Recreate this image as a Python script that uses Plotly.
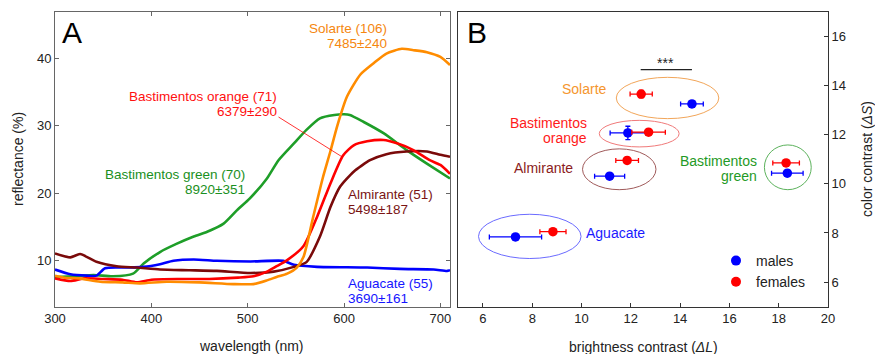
import plotly.graph_objects as go

# ---------------- Panel A data: reflectance spectra ----------------
green_wl = [300, 320, 340, 360, 381, 392, 409, 426, 444, 458, 475, 489, 502, 520, 532, 548, 561, 575, 590, 600, 606, 620, 641, 665, 686, 710]
green_rf = [7.6, 7.7, 7.9, 7.7, 8.1, 9.6, 11.3, 12.5, 13.6, 14.3, 15.5, 17.5, 19.2, 22.2, 24.9, 27.4, 29.4, 31.1, 31.6, 31.7, 31.6, 30.6, 28.9, 26.4, 24.4, 22.2]

orange_wl = [300, 310, 325, 347, 370, 388, 416, 450, 485, 506, 520, 530, 541, 551, 558, 568, 578, 586, 593, 603, 617, 631, 644, 660, 672, 686, 700, 710]
orange_rf = [7.8, 7.5, 7.4, 6.9, 6.8, 6.65, 6.9, 6.8, 6.55, 6.55, 7.1, 7.6, 8.1, 9.0, 10.6, 16.5, 22.3, 26.3, 30.0, 34.3, 37.6, 39.3, 40.7, 41.4, 41.2, 40.9, 40.2, 39.0]

red_wl = [300, 316, 330, 350, 370, 385, 400, 430, 460, 490, 506, 520, 530, 541, 558, 572, 586, 599, 610, 624, 641, 655, 672, 689, 700, 710]
red_rf = [7.4, 7.0, 7.4, 7.3, 7.2, 6.8, 7.2, 7.3, 7.3, 7.5, 7.7, 8.4, 9.2, 10.1, 12.2, 16.5, 21.5, 25.6, 27.1, 27.7, 27.9, 27.4, 26.4, 24.9, 24.2, 22.9]

maroon_wl = [300, 316, 326, 343, 364, 385, 409, 440, 468, 503, 527, 548, 561, 575, 586, 596, 610, 627, 644, 665, 686, 700, 710]
maroon_rf = [11.1, 10.5, 11.0, 9.85, 9.2, 9.0, 8.7, 8.6, 8.5, 8.2, 8.4, 9.1, 9.8, 13.6, 18.0, 21.0, 23.2, 24.9, 25.8, 26.2, 26.2, 25.7, 25.4]

blue_wl = [300, 316, 333, 343, 352, 371, 392, 409, 423, 444, 468, 503, 537, 548, 572, 624, 658, 693, 707, 710]
blue_rf = [8.7, 8.0, 7.8, 7.8, 8.9, 9.0, 9.1, 9.5, 10.0, 10.2, 10.0, 9.9, 10.0, 9.4, 9.1, 9.0, 8.8, 8.7, 8.5, 8.6]

# ---------------- Panel B data: contrasts ----------------
sites = ["Solarte", "Bastimentos orange", "Almirante", "Bastimentos green", "Aguacate"]
male_dL = [14.48, 11.88, 11.14, 18.35, 7.32]
male_dS = [13.25, 12.07, 10.31, 10.43, 7.84]
male_dL_err = [0.46, 0.72, 0.61, 0.64, 1.06]
male_dS_err = [0.12, 0.27, 0.12, 0.12, 0.12]
female_dL = [12.42, 12.72, 11.85, 18.30, 8.84]
female_dS = [13.65, 12.10, 10.95, 10.85, 8.05]
female_dL_err = [0.45, 0.68, 0.46, 0.54, 0.53]
female_dS_err = [0.15, 0.12, 0.12, 0.12, 0.12]

ell_cx = [13.49, 12.34, 11.53, 18.37, 7.90]
ell_cy = [13.49, 12.04, 10.59, 10.67, 7.86]
ell_rx = [2.08, 1.62, 1.49, 0.95, 2.08]
ell_ry = [0.84, 0.54, 0.83, 0.91, 0.90]

sig_dL = [12.4, 14.48]
sig_dS = 14.64

FONT = "Arial, Liberation Sans, sans-serif"
C_GREEN = "#1e9e28"
C_ORANGE = "#ff8c00"
C_RED = "#ff0000"
C_MAROON = "#7a0a0a"
C_BLUE = "#0000ff"

fig = go.Figure()

for wl, rf, col in [(green_wl, green_rf, C_GREEN), (blue_wl, blue_rf, C_BLUE),
                    (maroon_wl, maroon_rf, C_MAROON), (red_wl, red_rf, C_RED),
                    (orange_wl, orange_rf, C_ORANGE)]:
    fig.add_trace(go.Scatter(x=wl, y=rf, mode="lines", line=dict(color=col, width=2.6, shape="spline", smoothing=0.6),
                             xaxis="x", yaxis="y", showlegend=False, hoverinfo="skip"))

# leader line from label to red curve
fig.add_trace(go.Scatter(x=[532, 598], y=[31.3, 25.4], mode="lines", line=dict(color=C_RED, width=0.8),
                         xaxis="x", yaxis="y", showlegend=False, hoverinfo="skip"))

# ellipses
ell_cols = ["#f2a65a", "#f07a7a", "#a05a5a", "#5cb25c", "#6b6bff"]
for cx, cy, rx, ry, col in zip(ell_cx, ell_cy, ell_rx, ell_ry, ell_cols):
    fig.add_shape(type="circle", xref="x2", yref="y2", x0=cx - rx, x1=cx + rx, y0=cy - ry, y1=cy + ry,
                  line=dict(color=col, width=1))

fig.add_trace(go.Scatter(x=male_dL, y=male_dS, mode="markers", xaxis="x2", yaxis="y2",
                         marker=dict(color=C_BLUE, size=9.5),
                         error_x=dict(type="data", array=male_dL_err, color=C_BLUE, thickness=1.3, width=2.5),
                         error_y=dict(type="data", array=male_dS_err, color=C_BLUE, thickness=1.3, width=2.5),
                         showlegend=False, hoverinfo="skip"))
fig.add_trace(go.Scatter(x=female_dL, y=female_dS, mode="markers", xaxis="x2", yaxis="y2",
                         marker=dict(color=C_RED, size=9.5),
                         error_x=dict(type="data", array=female_dL_err, color=C_RED, thickness=1.3, width=2.5),
                         error_y=dict(type="data", array=female_dS_err, color=C_RED, thickness=1.3, width=2.5),
                         showlegend=False, hoverinfo="skip"))
# legend entries
fig.add_trace(go.Scatter(x=[None], y=[None], mode="markers", name="males", marker=dict(color=C_BLUE, size=10),
                         xaxis="x2", yaxis="y2"))
fig.add_trace(go.Scatter(x=[None], y=[None], mode="markers", name="females", marker=dict(color=C_RED, size=10),
                         xaxis="x2", yaxis="y2"))

# significance bar
fig.add_shape(type="line", xref="x2", yref="y2", x0=sig_dL[0], x1=sig_dL[1], y0=sig_dS, y1=sig_dS,
              line=dict(color="#222", width=1.2))

ann = []
def A(text, x, y, xanchor="center", yanchor="middle", color="#222", size=13.5, xref="x", yref="y", angle=0):
    ann.append(dict(text=text, x=x, y=y, xref=xref, yref=yref, xanchor=xanchor, yanchor=yanchor,
                    showarrow=False, textangle=angle, font=dict(family=FONT, size=size, color=color)))

W, H = 875.0, 354.0
def P(px, py):
    return px / W, 1 - py / H

for lines, px, ys, anchor, col in [
    (["Solarte (106)", "7485±240"], 389, [28.5, 43], "right", "#f5870f"),
    (["Bastimentos orange (71)", "6379±290"], 279, [97, 111.5], "right", "#ff1010"),
    (["Bastimentos green (70)", "8920±351"], 247, [175, 189.5], "right", "#1a8f22"),
    (["Almirante (51)", "5498±187"], 346, [194.5, 209], "left", "#7a1414"),
    (["Aguacate (55)", "3690±161"], 346, [283.5, 298], "left", "#1515ff"),
]:
    for t, py in zip(lines, ys):
        x, y = P(px, py)
        A(t, x, y, xanchor=anchor, color=col, xref="paper", yref="paper")

for lines, px, ys, anchor, col in [
    (["Solarte"], 609, [89], "right", "#f5962e"),
    (["Bastimentos", "orange"], 589, [123, 138.5], "right", "#ff1a1a"),
    (["Almirante"], 575, [168], "right", "#8b1c1c"),
    (["Bastimentos", "green"], 759, [161, 175.5], "right", "#1f9a26"),
    (["Aguacate"], 584, [233], "left", "#1a1aff"),
]:
    for t, py in zip(lines, ys):
        x, y = P(px, py)
        A(t, x, y, xanchor=anchor, color=col, xref="paper", yref="paper", size=14)

x, y = P(665, 63)
A("***", x, y, xref="paper", yref="paper", size=14)

x, y = P(60, 33); A("A", x, y, xanchor="left", xref="paper", yref="paper", size=30, color="#000")
x, y = P(465, 33); A("B", x, y, xanchor="left", xref="paper", yref="paper", size=30, color="#000")

x, y = P(252, 345.5); A("wavelength (nm)", x, y, xref="paper", yref="paper", size=14)
x, y = P(643, 346.5); A("brightness contrast (<i>ΔL</i>)", x, y, xref="paper", yref="paper", size=14)
x, y = P(18, 159); A("reflectance (%)", x, y, xref="paper", yref="paper", size=14, angle=-90)
x, y = P(867, 159); A("color contrast (<i>ΔS</i>)", x, y, xref="paper", yref="paper", size=14, angle=-90)

ydom = [1 - 306.7 / H, 1 - 11.7 / H]
axis_common = dict(showgrid=False, zeroline=False, ticks="inside", ticklen=4, tickwidth=1, automargin=False,
                   showline=True, linewidth=1, tickfont=dict(family=FONT, size=13, color="#222"))

fig.update_layout(
    width=875, height=354,
    margin=dict(l=0, r=0, t=0, b=0, autoexpand=False),
    paper_bgcolor="white", plot_bgcolor="white",
    font=dict(family=FONT, color="#222"),
    xaxis=dict(domain=[55 / W, 450 / W], range=[300, 710], tickvals=[300, 400, 500, 600, 700],
               mirror="ticks", linecolor="#666", tickcolor="#666", anchor="y", **axis_common),
    yaxis=dict(domain=ydom, range=[3.2, 46.9], tickvals=[10, 20, 30, 40],
               mirror="ticks", linecolor="#666", tickcolor="#666", anchor="x", **axis_common),
    xaxis2=dict(domain=[458.3 / W, 828 / W], range=[5, 20], tickvals=[6, 8, 10, 12, 14, 16, 18, 20],
                mirror=True, linecolor="#333", tickcolor="#333", anchor="y2", **axis_common),
    yaxis2=dict(domain=ydom, range=[5, 17], tickvals=[6, 8, 10, 12, 14, 16], side="right",
                mirror=True, linecolor="#333", tickcolor="#333", anchor="x2", **axis_common),
    legend=dict(x=716 / W, y=1 - 245 / H, xanchor="left", yanchor="top", bgcolor="rgba(0,0,0,0)",
                font=dict(family=FONT, size=14, color="#222"), tracegroupgap=0),
    annotations=ann,
)

fig.write_html("out.html", config={"displayModeBar": False},
               post_script="document.body.style.margin='0';document.body.style.overflow='hidden';")
